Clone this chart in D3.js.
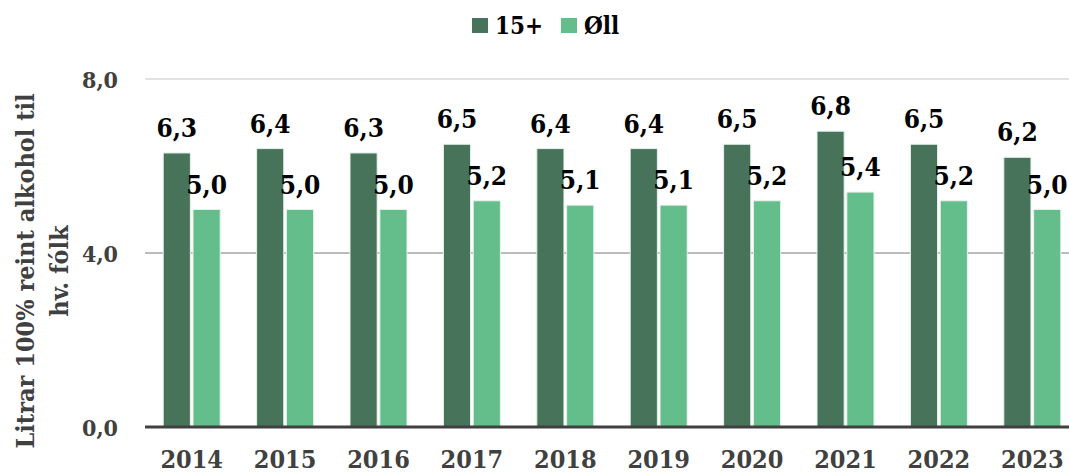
<html>
  <body style="margin:0;background:#fff">
    <script src="https://d3js.org/d3.v7.min.js"></script>
    <div id="chart"></div>
    <script>
      const years = ['2014', '2015', '2016', '2017', '2018', '2019', '2020', '2021', '2022', '2023'];
      const seriesNames = ['15+', 'Øll'];
      const values15 = [6.3, 6.4, 6.3, 6.5, 6.4, 6.4, 6.5, 6.8, 6.5, 6.2];
      const valuesAll = [5.0, 5.0, 5.0, 5.2, 5.1, 5.1, 5.2, 5.4, 5.2, 5.0];
      const yTicks = [0, 4, 8];
      const colors = ['#46735a', '#64be8c'];

      const width = 1069, height = 475;
      // plot runs a bit past the right edge, as in the original crop
      const margin = { top: 79, right: -10, bottom: 48, left: 145 };
      const innerW = width - margin.left - margin.right;
      const innerH = height - margin.top - margin.bottom;
      const font = '"DejaVu Serif Condensed", "DejaVu Serif", serif';
      const fmt = (d) => d3.format('.1f')(d).replace('.', ',');

      const svg = d3.select('#chart').append('svg')
        .attr('width', width).attr('height', height)
        .style('font-family', font).style('font-weight', 'bold')
        .style('font-stretch', 'condensed');

      const x = d3.scaleBand().domain(years).range([0, innerW]).paddingInner(0.39).paddingOuter(0.195);
      const xs = d3.scaleBand().domain(seriesNames).range([0, x.bandwidth()]).paddingInner(0.09);
      const y = d3.scaleLinear().domain([0, 8]).range([innerH, 0]);

      const g = svg.append('g').attr('transform', `translate(${margin.left},${margin.top})`);

      // grid
      g.selectAll('line.grid').data(yTicks.filter((d) => d > 0)).join('line')
        .attr('class', 'grid')
        .attr('x1', 0).attr('x2', innerW)
        .attr('y1', (d) => y(d)).attr('y2', (d) => y(d))
        .attr('stroke', (d) => (d === 4 ? '#a6a6a6' : '#d9d9d9'))
        .attr('stroke-width', 1.5);

      // y tick labels
      g.selectAll('text.ytick').data(yTicks).join('text')
        .attr('class', 'ytick')
        .attr('x', -27).attr('y', (d) => y(d) + 9)
        .attr('text-anchor', 'end').attr('fill', '#404040').attr('font-size', 23)
        .text(fmt);

      const data = years.map((yr, i) => ({ yr, vals: [values15[i], valuesAll[i]] }));
      const groups = g.selectAll('g.year').data(data).join('g')
        .attr('class', 'year')
        .attr('transform', (d) => `translate(${x(d.yr)},0)`);

      groups.selectAll('rect').data((d) => d.vals.map((v, j) => ({ v, s: seriesNames[j], j }))).join('rect')
        .attr('x', (d) => xs(d.s)).attr('width', xs.bandwidth())
        .attr('y', (d) => y(d.v)).attr('height', (d) => innerH - y(d.v))
        .attr('fill', (d) => colors[d.j])
        .attr('stroke', '#e6f1ea').attr('stroke-width', 1);

      groups.selectAll('text').data((d) => d.vals.map((v, j) => ({ v, s: seriesNames[j], j }))).join('text')
        .attr('x', (d) => xs(d.s) + xs.bandwidth() / 2)
        .attr('y', (d) => y(d.v) - 16)
        .attr('text-anchor', 'middle').attr('font-size', 26).attr('fill', '#000')
        .text((d) => fmt(d.v));

      // x axis
      g.append('line').attr('x1', 0).attr('x2', innerW).attr('y1', innerH).attr('y2', innerH)
        .attr('stroke', '#404040').attr('stroke-width', 3);
      g.selectAll('text.xtick').data(years).join('text')
        .attr('class', 'xtick')
        .attr('x', (d) => x(d) + x.bandwidth() / 2).attr('y', innerH + 41)
        .attr('text-anchor', 'middle').attr('fill', '#404040').attr('font-size', 25)
        .text((d) => d);

      // y title
      const titleG = svg.append('g').attr('transform', 'translate(34,271) rotate(-90)');
      titleG.append('text').attr('text-anchor', 'middle').attr('font-size', 25).attr('fill', '#404040')
        .text('Litrar 100% reint alkohol til');
      titleG.append('text').attr('text-anchor', 'middle').attr('font-size', 25).attr('fill', '#404040')
        .attr('y', 34).text('hv. fólk');

      // legend
      const legend = svg.append('g').attr('transform', 'translate(472,18)');
      const items = [{ name: seriesNames[0], x: 0 }, { name: seriesNames[1], x: 89 }];
      items.forEach((it, i) => {
        legend.append('rect').attr('x', it.x).attr('y', 0).attr('width', 16).attr('height', 15).attr('fill', colors[i]);
        legend.append('text').attr('x', it.x + 23).attr('y', 16).attr('font-size', 24).attr('fill', '#000').text(it.name);
      });
    </script>
  </body>
</html>
